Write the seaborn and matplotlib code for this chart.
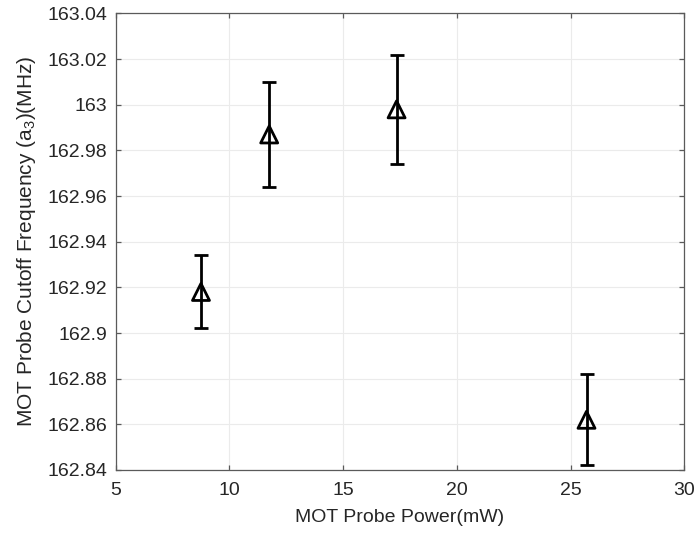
import matplotlib
matplotlib.use("Agg")
import matplotlib.pyplot as plt
import seaborn as sns
import pandas as pd

power_mw = [8.75, 11.75, 17.35, 25.7]
cutoff_mhz = [162.918, 162.987, 162.998, 162.862]
err_mhz = [0.016, 0.023, 0.024, 0.020]

sns.set_theme(style="whitegrid")
plt.rcParams['font.family'] = ['Liberation Sans', 'DejaVu Sans']
plt.rcParams['mathtext.fontset'] = 'custom'
plt.rcParams['mathtext.rm'] = 'Liberation Sans'
plt.rcParams['mathtext.it'] = 'Liberation Sans'
plt.rcParams['mathtext.default'] = 'rm'

df = pd.DataFrame({"power": power_mw, "cutoff": cutoff_mhz, "err": err_mhz})

fig = plt.figure(figsize=(6.96, 5.33), dpi=100)
ax = fig.add_axes([0.1662, 0.1182, 0.817, 0.8565])

ax.errorbar(df["power"], df["cutoff"], yerr=df["err"], fmt='none',
            ecolor='black', elinewidth=2, capsize=5, capthick=2, zorder=3)
sns.scatterplot(data=df, x="power", y="cutoff", marker='^', s=150,
                facecolor='none', edgecolor='black', linewidth=2, ax=ax, zorder=4)

ax.set_xlim(5, 30)
ax.set_ylim(162.84, 163.04)
ax.set_xticks([5, 10, 15, 20, 25, 30])
yt = [162.84, 162.86, 162.88, 162.9, 162.92, 162.94, 162.96, 162.98, 163, 163.02, 163.04]
ax.set_yticks(yt)
ax.set_yticklabels([f"{v:g}" for v in yt])

ax.grid(True, color='#ebebeb', linewidth=0.8)
for s in ax.spines.values():
    s.set_color('#5a5a5a')
    s.set_linewidth(0.9)
    s.set_visible(True)
ax.set_facecolor('white')
ax.tick_params(direction='in', length=3.5, width=0.9, color='#5a5a5a', labelsize=14,
               labelcolor='#262626', left=True, bottom=True, top=True, right=True,
               labeltop=False, labelright=False)
ax.tick_params(axis='x', pad=9)
ax.tick_params(axis='y', pad=6)

ax.set_xlabel("MOT Probe Power(mW)", fontsize=14, color='#262626', labelpad=7)
ax.set_ylabel("MOT Probe Cutoff Frequency (a$_3$)(MHz)", fontsize=15, color='#262626', labelpad=7)

fig.savefig("out.png", dpi=100, facecolor='white')
